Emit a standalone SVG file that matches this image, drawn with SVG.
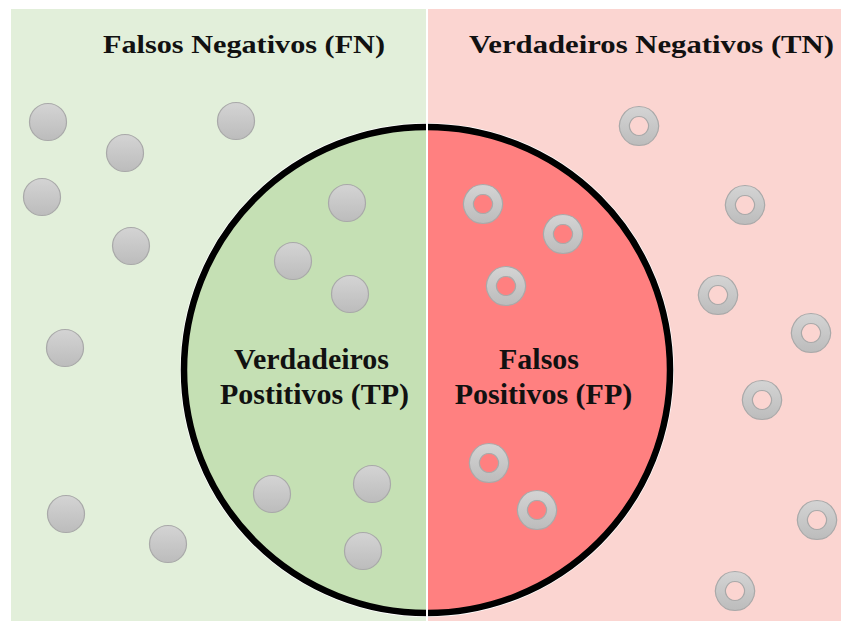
<svg xmlns="http://www.w3.org/2000/svg" width="845" height="628" viewBox="0 0 845 628">
  <defs>
    <linearGradient id="ball" x1="0" y1="0" x2="0" y2="1">
      <stop offset="0" stop-color="#d4d4d4"/>
      <stop offset="1" stop-color="#bcbcbc"/>
    </linearGradient>
    <clipPath id="disc">
      <circle cx="427" cy="370" r="243"/>
    </clipPath>
    <symbol id="dot" overflow="visible">
      <circle cx="0" cy="0" r="18.5" fill="url(#ball)" stroke="#a9a9a9" stroke-width="1.2"/>
    </symbol>
    <symbol id="ring" overflow="visible">
      <path d="M0,-19.5a19.5,19.5 0 1,0 0.01,0zM0,-9.5a9.5,9.5 0 1,1 -0.01,0z" fill="url(#ball)" fill-rule="evenodd" stroke="#a9a9a9" stroke-width="1.2"/>
    </symbol>
  </defs>
  <style>
    .title { font-family: "Liberation Serif", "Times New Roman", serif; font-weight: bold; font-size: 26px; fill: #111; }
    .inner { font-family: "Liberation Serif", "Times New Roman", serif; font-weight: bold; font-size: 30px; fill: #111; text-anchor: middle; }
  </style>

  <rect width="845" height="628" fill="#ffffff"/>

  <!-- backgrounds -->
  <g id="background">
    <rect x="11" y="9" width="415" height="612" fill="#e2efda"/>
    <rect x="428" y="9" width="413" height="612" fill="#fbd5d1"/>
  </g>

  <!-- central disc -->
  <g id="disc-fill">
    <g clip-path="url(#disc)">
      <rect x="180" y="120" width="246" height="500" fill="#c5e0b4"/>
      <rect x="428" y="120" width="246" height="500" fill="#ff8080"/>
    </g>
    <circle cx="427" cy="370" r="245.5" fill="none" stroke="#ffffff" stroke-width="3"/>
    <circle cx="427" cy="370" r="243" fill="none" stroke="#000000" stroke-width="6.5"/>
    <rect x="426" y="9" width="2" height="612" fill="#ffffff"/>
  </g>

  <g id="labels">
    <text class="title" x="103" y="53" textLength="282" lengthAdjust="spacingAndGlyphs">Falsos Negativos (FN)</text>
    <text class="title" x="469" y="53" textLength="365" lengthAdjust="spacingAndGlyphs">Verdadeiros Negativos (TN)</text>
    <text class="inner" x="311.5" y="369">Verdadeiros</text>
    <text class="inner" x="314.5" y="404">Postitivos (TP)</text>
    <text class="inner" x="539" y="369">Falsos</text>
    <text class="inner" x="543.5" y="404">Positivos (FP)</text>
  </g>

  <g id="negatives-left">
    <use href="#dot" x="48" y="122"/>
    <use href="#dot" x="125" y="153"/>
    <use href="#dot" x="236" y="121"/>
    <use href="#dot" x="42" y="197"/>
    <use href="#dot" x="131" y="246"/>
    <use href="#dot" x="65" y="348"/>
    <use href="#dot" x="66" y="514"/>
    <use href="#dot" x="168" y="544"/>
  </g>
  <g id="positives-true">
    <use href="#dot" x="347" y="203"/>
    <use href="#dot" x="293" y="261"/>
    <use href="#dot" x="350" y="294"/>
    <use href="#dot" x="272" y="494"/>
    <use href="#dot" x="372" y="484"/>
    <use href="#dot" x="363" y="551"/>
  </g>
  <g id="positives-false">
    <use href="#ring" x="483" y="204"/>
    <use href="#ring" x="563" y="234"/>
    <use href="#ring" x="506" y="286"/>
    <use href="#ring" x="489" y="463"/>
    <use href="#ring" x="537" y="510"/>
  </g>
  <g id="negatives-right">
    <use href="#ring" x="639" y="126"/>
    <use href="#ring" x="745" y="205"/>
    <use href="#ring" x="718" y="295"/>
    <use href="#ring" x="811" y="333"/>
    <use href="#ring" x="762" y="400"/>
    <use href="#ring" x="817" y="520"/>
    <use href="#ring" x="735" y="591"/>
  </g>
</svg>
